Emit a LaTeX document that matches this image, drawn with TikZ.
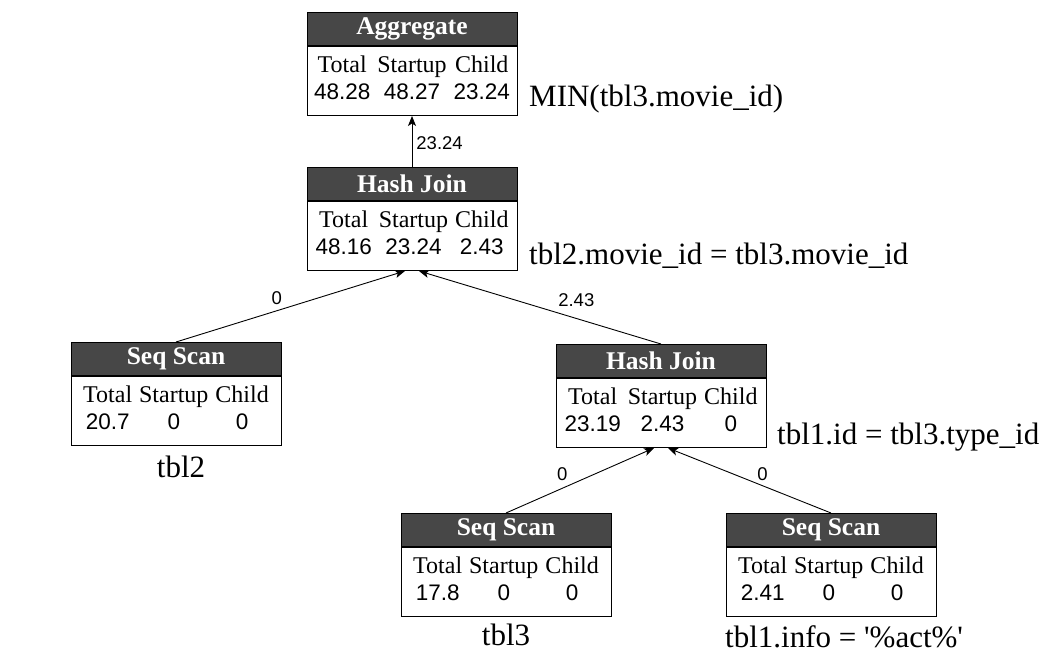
\documentclass[tikz,border=0pt]{standalone}
\usepackage{fontspec}
\setmainfont{Liberation Serif}
\setsansfont{Liberation Sans}
\usetikzlibrary{arrows.meta}
\definecolor{hdrgray}{HTML}{474747}
\newcommand\nm[1]{{\sffamily\fontsize{22.5}{27}\selectfont #1}}
\tikzset{
  hdrbox/.style={draw=black, fill=hdrgray, text=white, line width=1pt,
    font=\fontsize{25.5}{28}\selectfont\bfseries,
    minimum width=210pt, minimum height=33pt, inner sep=0pt, anchor=north},
  bodybox/.style={draw=black, fill=white, line width=1pt,
    font=\fontsize{24}{27}\selectfont,
    minimum width=210pt, minimum height=69pt, inner sep=0pt, anchor=north},
  edge/.style={draw=black, line width=0.9pt,
    -{Stealth[length=10pt,width=8pt,inset=2.5pt]}},
  elabel/.style={font=\sffamily\fontsize{18.5}{20}\selectfont, inner sep=1pt},
  annot/.style={font=\fontsize{31}{34}\selectfont, inner sep=0pt}
}
\newcommand\opbox[7]{%
  \node[hdrbox] (#1-h) at (#2pt,-#3pt) {#4};
  \node[bodybox] (#1) at (#1-h.south) {\setlength{\tabcolsep}{3.5pt}%
    \begin{tabular}{@{}ccc@{}}Total & Startup & Child\\ \nm{#5} & \nm{#6} & \nm{#7}\end{tabular}};
}
\begin{document}
\begin{tikzpicture}[x=1pt,y=1pt]
\useasboundingbox (0,0) rectangle (1045,-654);
\opbox{agg}{412}{12}{Aggregate}{48.28}{48.27}{23.24}
\opbox{hja}{412}{167}{Hash Join}{48.16}{23.24}{2.43}
\opbox{ssb}{176}{342}{Seq Scan}{20.7}{0}{0}
\opbox{hjb}{661}{344}{Hash Join}{23.19}{2.43}{0}
\opbox{ssc}{506}{513}{Seq Scan}{17.8}{0}{0}
\opbox{ssa}{831}{513}{Seq Scan}{2.41}{0}{0}

\draw[edge] (hja-h.north) -- node[elabel, pos=0.47, right=3pt] {23.24} (agg.south);
\draw[edge] (ssb-h.north) -- node[elabel, pos=0.44, above=5pt] {0} ([xshift=-7pt]hja.south);
\draw[edge] (hjb-h.north) -- node[elabel, pos=0.35, above=10pt] {2.43} ([xshift=7pt]hja.south);
\draw[edge] (ssc-h.north) -- node[elabel, pos=0.38, above=6pt] {0} ([xshift=-7pt]hjb.south);
\draw[edge] (ssa-h.north) -- node[elabel, pos=0.42, above=4pt] {0} ([xshift=7pt]hjb.south);

\node[annot, anchor=west] (t-agg) at (529,-99) {MIN(tbl3.movie\_id)};
\node[annot, anchor=west] (t-hja) at (529,-256) {tbl2.movie\_id = tbl3.movie\_id};
\node[annot, anchor=west] (t-hjb) at (777,-437) {tbl1.id = tbl3.type\_id};
\node[annot] (t-ssb) at (181,-467) {tbl2};
\node[annot] (t-ssc) at (506,-635) {tbl3};
\node[annot, anchor=west] (t-ssa) at (725,-637) {tbl1.info = \textquotesingle\%act\%\textquotesingle};
\end{tikzpicture}
\end{document}
